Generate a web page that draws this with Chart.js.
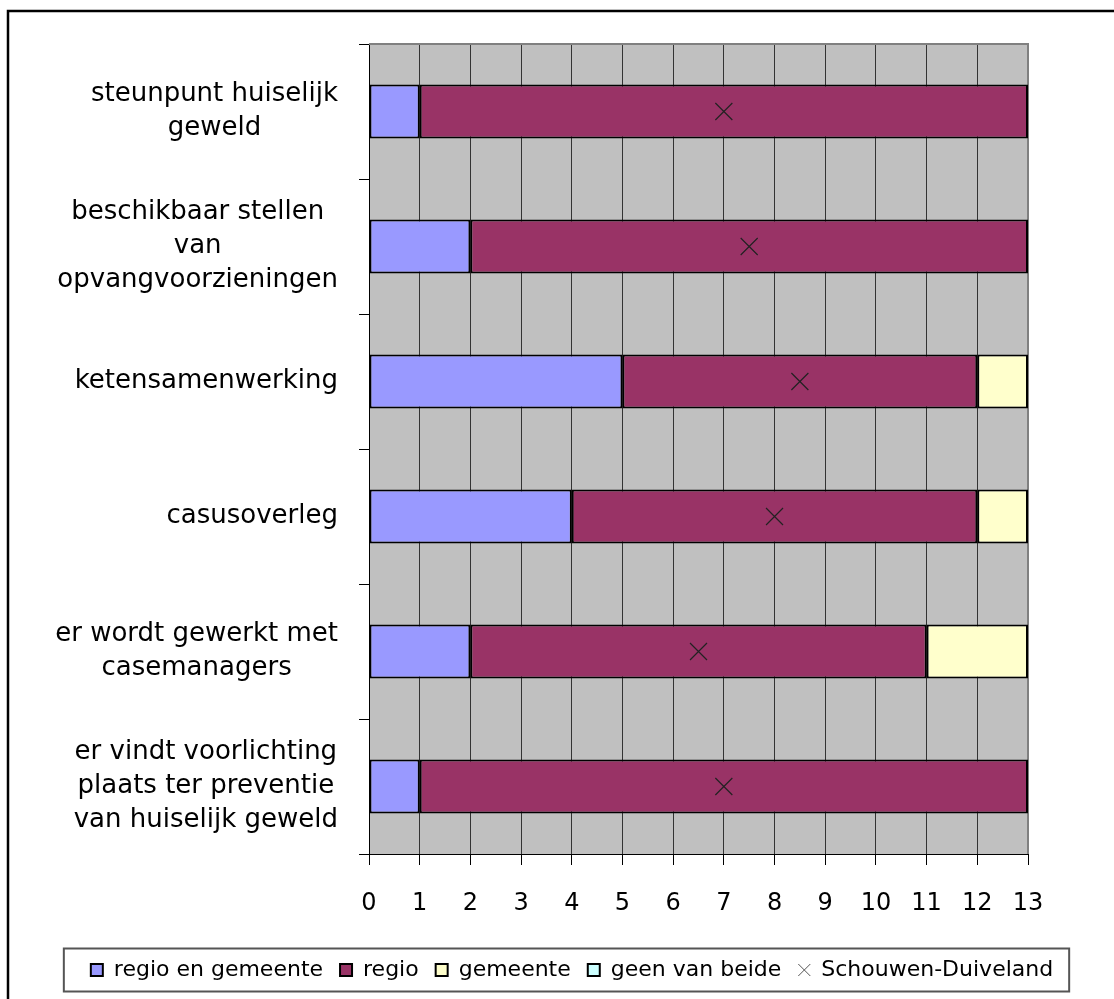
<!DOCTYPE html>
<html lang="nl">
<head>
<meta charset="UTF-8">
<title>Aanpak huiselijk geweld</title>
<script src="https://cdn.jsdelivr.net/npm/chart.js"></script>
<style>
  body { margin: 0; background: #ffffff; }
</style>
</head>
<body>
<canvas id="grafiek" width="1114" height="999"></canvas>

<script>
// gegevens uit de grafiek
var categorieen = [
    ['steunpunt huiselijk', 'geweld'],
    ['beschikbaar stellen', 'van', 'opvangvoorzieningen'],
    ['ketensamenwerking'],
    ['casusoverleg'],
    ['er wordt gewerkt met', 'casemanagers'],
    ['er vindt voorlichting', 'plaats ter preventie', 'van huiselijk geweld']
];
var regioEnGemeente = [1, 2, 5, 4, 2, 1];
var regio = [12, 11, 7, 8, 9, 12];
var gemeente = [0, 0, 1, 1, 2, 0];
var geenVanBeide = [0, 0, 0, 0, 0, 0];
var schouwenDuiveland = [7, 7.5, 8.5, 8, 6.5, 7];
var xMin = 0;
var xMax = 13;

var fontNaam = '"DejaVu Sans", "Liberation Sans", sans-serif';

// grijze achtergrond van het plotvlak
const achtergrond = {
    id: 'achtergrond',
    beforeDraw(chart) {
        const { ctx, chartArea: a } = chart;
        ctx.save();
        ctx.fillStyle = '#ffffff';
        ctx.fillRect(0, 0, chart.width, chart.height);
        ctx.fillStyle = '#c0c0c0';
        ctx.fillRect(a.left, a.top, a.right - a.left, a.bottom - a.top);
        ctx.restore();
    },
    beforeDatasetsDraw(chart) {
        const { ctx, chartArea: a } = chart;
        ctx.save();
        ctx.strokeStyle = '#808080';
        ctx.lineWidth = 2;
        ctx.beginPath();
        ctx.moveTo(a.left, a.top);
        ctx.lineTo(a.right, a.top);
        ctx.lineTo(a.right, a.bottom);
        ctx.stroke();
        ctx.restore();
    }
};

// categorielabels: blok rechts uitgelijnd, regels gecentreerd
const yLabels = {
    id: 'yLabels',
    afterDraw(chart) {
        const ctx = chart.ctx;
        const y = chart.scales.y;
        ctx.save();
        ctx.font = '26px ' + fontNaam;
        ctx.fillStyle = '#000000';
        ctx.textAlign = 'center';
        ctx.textBaseline = 'middle';
        chart.data.labels.forEach(function (lbl, i) {
            const regels = Array.isArray(lbl) ? lbl : [lbl];
            const w = Math.max.apply(null, regels.map(r => ctx.measureText(r).width));
            const cx = y.right - 31 - w / 2;
            const cy = y.getPixelForTick(i);
            regels.forEach(function (r, j) {
                ctx.fillText(r, cx, cy + (j - (regels.length - 1) / 2) * 34);
            });
        });
        ctx.restore();
    }
};

// kaders: rond de legenda en de rand van de hele grafiek
const kaders = {
    id: 'kaders',
    afterDraw(chart) {
        const ctx = chart.ctx;
        const hb = chart.legend.legendHitBoxes;
        let l = Infinity, r = -Infinity;
        hb.forEach(function (h) {
            l = Math.min(l, h.left);
            r = Math.max(r, h.left + h.width);
        });
        const midden = hb[0].top + hb[0].height / 2;
        ctx.save();
        ctx.strokeStyle = '#555555';
        ctx.lineWidth = 2;
        ctx.strokeRect(l - 27, midden - 21.5, (r - l) + 43, 43);
        ctx.strokeStyle = '#000000';
        ctx.lineWidth = 2.5;
        ctx.beginPath();
        ctx.moveTo(8, chart.height);
        ctx.lineTo(8, 11);
        ctx.lineTo(chart.width, 11);
        ctx.stroke();
        ctx.restore();
    }
};

const config = {
    type: 'bar',
    data: {
        labels: categorieen,
        datasets: [
            { label: 'regio en gemeente', data: regioEnGemeente, backgroundColor: '#9999ff' },
            { label: 'regio', data: regio, backgroundColor: '#993366' },
            { label: 'gemeente', data: gemeente, backgroundColor: '#ffffcc' },
            { label: 'geen van beide', data: geenVanBeide, backgroundColor: '#ccffff' },
            {
                type: 'line',
                label: 'Schouwen-Duiveland',
                data: schouwenDuiveland,
                indexAxis: 'y',
                stack: 'sd',
                order: -1,
                showLine: false,
                pointStyle: 'crossRot',
                pointRadius: 12,
                pointHoverRadius: 12,
                pointBorderWidth: 1.2,
                borderColor: '#222222',
                backgroundColor: '#222222'
            }
        ]
    },
    options: {
        responsive: false,
        animation: false,
        indexAxis: 'y',
        layout: { padding: { left: 30, right: 0, top: 44, bottom: 8 } },
        datasets: {
            bar: {
                borderColor: '#000000',
                borderWidth: 2,
                borderSkipped: false,
                barPercentage: 0.4,
                categoryPercentage: 1
            }
        },
        plugins: {
            tooltip: { enabled: false },
            legend: {
                position: 'bottom',
                labels: {
                    usePointStyle: true,
                    boxWidth: 12,
                    boxHeight: 12,
                    padding: 17,
                    color: '#000000',
                    font: { family: fontNaam, size: 22 },
                    generateLabels(chart) {
                        const items = Chart.defaults.plugins.legend.labels.generateLabels(chart);
                        items.forEach(function (it) {
                            const ds = chart.data.datasets[it.datasetIndex];
                            if (ds.type === 'line') {
                                it.pointStyle = 'crossRot';
                                it.strokeStyle = '#555555';
                                it.lineWidth = 1;
                            } else {
                                it.pointStyle = 'rect';
                                it.strokeStyle = '#000000';
                                it.lineWidth = 2;
                            }
                        });
                        return items.sort((a, b) => a.datasetIndex - b.datasetIndex);
                    }
                }
            }
        },
        scales: {
            x: {
                stacked: true,
                min: xMin,
                max: xMax,
                afterFit(scale) { scale.height = 88; },
                border: { display: true, color: '#000000', width: 1 },
                grid: {
                    color: (c) => (c.tick && c.tick.value === xMax) ? '#808080' : '#333333',
                    lineWidth: 1,
                    drawTicks: true,
                    tickLength: 11,
                    tickColor: '#000000'
                },
                ticks: {
                    stepSize: 1,
                    color: '#000000',
                    padding: 24,
                    font: { family: fontNaam, size: 24 }
                }
            },
            y: {
                stacked: true,
                afterFit(scale) { scale.width = 339; },
                border: { display: true, color: '#000000', width: 1 },
                grid: {
                    drawOnChartArea: false,
                    drawTicks: true,
                    tickLength: 10,
                    color: '#000000'
                },
                ticks: { display: false }
            },
            // lege as rechts, houdt ruimte vrij naast het plotvlak
            rechts: {
                axis: 'y',
                type: 'category',
                position: 'right',
                afterFit(scale) { scale.width = 86; },
                border: { display: false },
                grid: { display: false },
                ticks: { display: false }
            }
        }
    },
    plugins: [achtergrond, yLabels, kaders]
};

new Chart(document.getElementById('grafiek').getContext('2d'), config);
</script>
</body>
</html>
